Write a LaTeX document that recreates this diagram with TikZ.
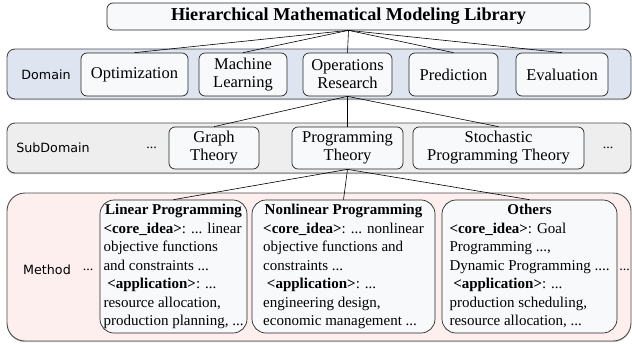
\documentclass[tikz,border=0pt]{standalone}
\usepackage{fontspec}
\setmainfont{Liberation Serif}
\newfontfamily\tagfont{DejaVu Sans}
\usetikzlibrary{shadows}

\definecolor{domainfill}{RGB}{222,228,240}
\definecolor{subfill}{RGB}{238,238,238}
\definecolor{methodfill}{RGB}{252,239,238}
\definecolor{boxfill}{RGB}{248,249,251}

\tikzset{
  band/.style={draw=black!70, line width=0.9pt, rounded corners=8pt, inner sep=0pt,
    drop shadow={shadow xshift=0pt, shadow yshift=-1.2pt, opacity=0.35, fill=black!60}},
  item/.style={draw=black!85, line width=0.7pt, rounded corners=6pt, fill=boxfill,
    align=center, inner sep=0pt, font=\fontsize{16.5}{18}\selectfont},
  methodbox/.style={draw=black!85, line width=0.7pt, rounded corners=14pt, fill=boxfill,
    inner sep=0pt, minimum height=133pt, font=\fontsize{15}{18.5}\selectfont},
  tag/.style={inner sep=0pt, font=\tagfont\fontsize{12.7}{14}\selectfont},
  dots/.style={inner sep=0pt, font=\fontsize{14}{16}\selectfont},
  link/.style={line width=0.6pt},
}

\begin{document}
\begin{tikzpicture}[x=1pt,y=-1pt]
        \useasboundingbox (0,0) rectangle (632,343);

        % rows
        \node[band, fill=domainfill, minimum width=624pt, minimum height=50pt] (domainrow) at (319,74) {};
        \node[band, fill=subfill, minimum width=624pt, minimum height=50pt] (subrow) at (319,148) {};
        \node[band, fill=methodfill, rounded corners=18pt, minimum width=624pt, minimum height=148pt] (methodrow) at (319,267) {};

        \node[tag] (domaintag) at (46,75) {Domain};
        \node[tag] (subtag) at (53,148) {SubDomain};
        \node[tag] (methodtag) at (47,270) {Method};

        % top
        \node[item, font=\fontsize{18.2}{20}\selectfont\bfseries, minimum width=483pt, minimum height=27pt] (title) at (348.5,16.5) {Hierarchical Mathematical Modeling Library};

        % domain
        \node[item, minimum width=107pt, minimum height=43pt] (opt) at (134.5,74.5) {Optimization};
        \node[item, minimum width=88pt, minimum height=43pt] (ml) at (243,74.5) {Machine\\Learning};
        \node[item, minimum width=89pt, minimum height=43pt] (opsr) at (347.5,74.5) {Operations\\Research};
        \node[item, minimum width=89pt, minimum height=43pt] (pred) at (453.5,74.5) {Prediction};
        \node[item, minimum width=92pt, minimum height=43pt] (eval) at (562,74.5) {Evaluation};

        % subdomain
        \node[dots] (subleft) at (151.5,148) {...};
        \node[item, minimum width=90pt, minimum height=42pt] (graph) at (214,148) {Graph\\Theory};
        \node[item, minimum width=111pt, minimum height=42pt] (prog) at (347.5,148) {Programming\\Theory};
        \node[item, minimum width=171pt, minimum height=42pt] (stoch) at (498.5,148) {Stochastic\\Programming Theory};
        \node[dots] (subright) at (608,148) {...};

        % method
        \node[dots] (methodleft) at (88,270) {...};
        \node[methodbox, minimum width=147pt] (linear) at (173.5,266.5) {\begin{tabular}{@{}l@{}}
          \multicolumn{1}{@{}c@{}}{\textbf{Linear Programming}}\\
          \textbf{<core\_idea>}: ... linear\\
          objective functions\\
          and constraints ...\\
          \ \textbf{<application>}: ...\\
          resource allocation,\\
          production planning, ...
        \end{tabular}};
        \node[methodbox, minimum width=183pt] (nonlinear) at (343.5,266.5) {\begin{tabular}{@{}l@{}}
          \multicolumn{1}{@{}c@{}}{\textbf{Nonlinear Programming}}\\
          \textbf{<core\_idea>}: ... nonlinear\\
          objective functions and\\
          constraints ...\\
          \ \textbf{<application>}: ...\\
          engineering design,\\
          economic management ...
        \end{tabular}};
        \node[methodbox, minimum width=175pt] (others) at (529.5,266.5) {\begin{tabular}{@{}l@{}}
          \multicolumn{1}{@{}c@{}}{\textbf{Others}}\\
          \textbf{<core\_idea>}: Goal\\
          Programming ...,\\
          Dynamic Programming ....\\
          \ \textbf{<application>}: ...\\
          production scheduling,\\
          resource allocation, ...
        \end{tabular}};
        \node[dots] (methodright) at (624.5,270) {...};

        % links
        \draw[link] (title.south) -- (opt.north);
        \draw[link] (title.south) -- (ml.north);
        \draw[link] (title.south) -- (opsr.north);
        \draw[link] (title.south) -- (pred.north);
        \draw[link] (title.south) -- (eval.north);

        \draw[link] (opsr.south) -- (graph.north);
        \draw[link] (opsr.south) -- (prog.north);
        \draw[link] (opsr.south) -- (stoch.north);

        \draw[link] (prog.south) -- (linear.north);
        \draw[link] (prog.south) -- (nonlinear.north);
        \draw[link] (prog.south) -- (others.north);
\end{tikzpicture}
\end{document}
